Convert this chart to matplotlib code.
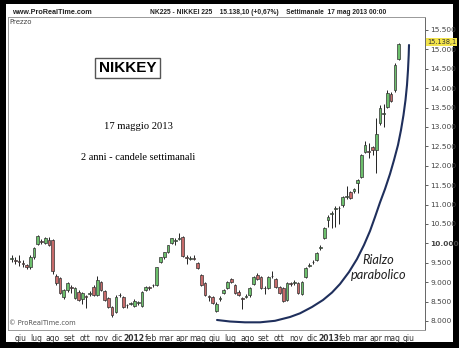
import matplotlib
matplotlib.use('Agg')
import matplotlib.pyplot as plt
import matplotlib.transforms as mtransforms
from matplotlib.patches import Rectangle
import pandas as pd

# weekly candles, first week starts Monday 16 May 2011
start = pd.Timestamp('2011-05-16')

opens = [9600, 9560, 9540, 9490, 9440, 9380, 9640, 9980, 10060, 10010,
         10090, 10080, 9170, 9110, 8620, 8800, 8870, 8590, 8750, 8570,
         8640, 8700, 8880, 8670, 9000, 8770, 8590, 8360, 8230, 8660,
         8620, 8400, 8450, 8390, 8470, 8390, 8800, 8860, 8920, 8930,
         9520, 9650, 9780, 10010, 10070, 10120, 10160, 9640, 9610, 9630,
         9490, 9190, 8980, 8630, 8620, 8260, 8570, 8720, 8850, 9080,
         8930, 8750, 8580, 8630, 8670, 8950, 9190, 9130, 8840, 8850,
         9150, 9080, 8880, 8850, 8540, 8960, 8990, 8980, 8700, 9130,
         9430, 9510, 9570, 9890, 10140, 10600, 10760, 10890, 10900, 10990,
         11190, 11320, 11360, 11560, 11710, 12360, 12380, 12480, 12410, 13100,
         13340, 13520, 13850, 13950, 14750]
highs = [9700, 9640, 9700, 9560, 9480, 9690, 9900, 10210, 10120, 10160,
         10160, 10110, 9220, 9130, 8820, 9000, 8920, 8880, 8790, 8760,
         8660, 8780, 8920, 9150, 9040, 8800, 8610, 8380, 8660, 8720,
         8650, 8440, 8490, 8560, 8520, 8780, 8900, 8890, 8960, 9400,
         9660, 9790, 9970, 10150, 10130, 10260, 10190, 9690, 9680, 9690,
         9520, 9210, 9000, 8680, 8650, 8480, 8640, 8830, 9020, 9100,
         8950, 8790, 8620, 8700, 8870, 9150, 9230, 9150, 8900, 9160,
         9300, 9110, 8900, 8870, 9000, 9000, 9060, 9000, 9030, 9390,
         9490, 9560, 9770, 9960, 10420, 10740, 10830, 10960, 10960, 11220,
         11480, 11360, 11420, 11650, 12300, 12650, 12600, 12520, 13230, 13560,
         13600, 13950, 13900, 14650, 15160]
lows = [9520, 9480, 9430, 9400, 9330, 9340, 9610, 9960, 9980, 9980,
        9940, 9200, 8940, 8700, 8560, 8760, 8720, 8560, 8520, 8450,
        8340, 8640, 8650, 8640, 8770, 8520, 8340, 8100, 8200, 8620,
        8340, 8340, 8400, 8360, 8420, 8370, 8780, 8800, 8870, 8910,
        9500, 9600, 9760, 9990, 9960, 10080, 9660, 9470, 9560, 9570,
        9340, 8900, 8640, 8520, 8430, 8240, 8520, 8690, 8830, 8980,
        8700, 8640, 8300, 8580, 8620, 8930, 9060, 8830, 8700, 8830,
        9100, 8860, 8700, 8490, 8520, 8900, 8940, 8700, 8660, 9110,
        9380, 9460, 9550, 9830, 10120, 10420, 10400, 10420, 10500, 10950,
        11150, 11150, 11300, 11300, 11690, 12330, 12200, 12280, 11810, 13050,
        13000, 13480, 13640, 13900, 14720]
closes = [9610, 9550, 9520, 9470, 9380, 9640, 9880, 10180, 10040, 10140,
          9960, 9290, 8980, 8720, 8800, 8980, 8840, 8850, 8540, 8720,
          8620, 8720, 8670, 9060, 8800, 8540, 8360, 8160, 8620, 8670,
          8360, 8410, 8460, 8520, 8490, 8750, 8880, 8850, 8930, 9390,
          9650, 9780, 9960, 10140, 10090, 10140, 9680, 9620, 9620, 9610,
          9370, 8930, 8670, 8620, 8460, 8440, 8590, 8800, 9000, 9000,
          8720, 8670, 8570, 8640, 8850, 9130, 9080, 8850, 8850, 9130,
          9160, 8880, 8720, 8510, 8980, 8950, 9000, 8720, 9000, 9370,
          9440, 9520, 9750, 9920, 10400, 10690, 10790, 10910, 10920, 11200,
          11210, 11170, 11390, 11630, 12280, 12540, 12350, 12400, 12820, 13490,
          13360, 13880, 13680, 14600, 15138.1]

# hand drawn "parabolic" curve (week index, price)
curve_weeks = [55.19, 58.68, 62.71, 66.75, 70.78, 74.81, 77.50, 80.72, 83.68, 86.10,
               88.25, 90.67, 92.82, 94.70, 96.32, 97.66, 99.00, 100.35, 101.69, 102.77,
               103.84, 104.65, 105.32, 105.86, 106.26, 106.53, 106.72, 106.80]
curve_values = [8026, 7987, 7966, 7966, 8005, 8103, 8198, 8361, 8541, 8734,
                8954, 9263, 9598, 9959, 10320, 10680, 11054, 11402, 11789, 12149,
                12536, 12923, 13309, 13696, 14082, 14469, 14856, 15113]

month_labels = ['giu', 'lug', 'ago', 'set', 'ott', 'nov', 'dic', '2012', 'feb', 'mar',
                'apr', 'mag', 'giu', 'lug', 'ago', 'set', 'ott', 'nov', 'dic', '2013',
                'feb', 'mar', 'apr', 'mag', 'giu']
month_starts = pd.date_range('2011-06-01', periods=len(month_labels), freq='MS')
price_ticks = list(range(8000, 16000, 500))

green = '#6cbf6c'
red = '#c66a6a'

fig = plt.figure(figsize=(4.6, 3.48), dpi=100, facecolor='black')
# white page inside the black frame
fig.patches.append(Rectangle((6/460, 6/348), 447/460, 338/348,
                             transform=fig.transFigure, facecolor='white',
                             edgecolor='none', zorder=-10))

ax = fig.add_axes([8/460, 18/348, 417/460, 313/348])
ax.set_zorder(1)
ax.set_facecolor('white')

x = list(range(len(closes)))
bottoms = [min(o, c) for o, c in zip(opens, closes)]
heights = [max(abs(c - o), 18) for o, c in zip(opens, closes)]
cols = [green if c >= o else red for o, c in zip(opens, closes)]

ax.vlines(x, lows, highs, color='#222222', linewidth=0.7, zorder=2)
ax.bar(x, heights, bottom=bottoms, width=0.72, color=cols,
       edgecolor='#333333', linewidth=0.5, zorder=3)

ax.plot(curve_weeks, curve_values, color='#1f2f5c', linewidth=1.5, zorder=4,
        solid_joinstyle='round', solid_capstyle='round')

ax.set_xlim(-1.0, 111.1)
ax.set_ylim(7768, 15835)

tick_pos = [(d - start).days / 7 for d in month_starts]
ax.set_xticks(tick_pos)
ax.set_xticklabels(month_labels)
for lbl in ax.get_xticklabels():
    if lbl.get_text().isdigit():
        lbl.set_fontweight('bold')
        lbl.set_fontsize(6.3)
ax.tick_params(axis='x', length=0, labelsize=5.5, colors='#333333', pad=3)

ax.yaxis.tick_right()
ax.set_yticks(price_ticks)
ax.set_yticklabels([f'{v:,}'.replace(',', '.') for v in price_ticks])
for lbl in ax.get_yticklabels():
    if lbl.get_text() == '10.000':
        lbl.set_fontweight('bold')
ax.tick_params(axis='y', length=2.5, width=0.6, labelsize=5.3, colors='#444444', pad=1.5)

for s in ax.spines.values():
    s.set_color('#999999')
    s.set_linewidth(0.7)
ax.spines['right'].set_color('#666666')

# last price marker on the scale
last = closes[-1]
trans = mtransforms.blended_transform_factory(ax.transAxes, ax.transData)
ax.text(1.005, last + 60, f'{last:,.1f}'.replace(',', 'X').replace('.', ',').replace('X', '.'),
        transform=trans, fontsize=4.8, color='#333333', va='center', ha='left',
        bbox=dict(boxstyle='square,pad=0.12', facecolor='#f2e34a', edgecolor='none'),
        zorder=6, clip_on=False)

# header
fig.text(12/460, 336/348, 'www.ProRealTime.com', fontsize=5.2, fontweight='bold',
         family='Liberation Sans', color='#222222', va='center')
fig.text(150/460, 336/348,
         'NK225 - NIKKEI 225    15.138,10 (+0,67%)    Settimanale  17 mag 2013 00:00',
         fontsize=4.75, fontweight='bold', family='Liberation Sans', color='#222222',
         va='center')

ax.text(0.004, 0.993, 'Prezzo', transform=ax.transAxes, fontsize=5,
        color='#444444', va='top', ha='left')
ax.text(0.003, 0.012, '© ProRealTime.com', transform=ax.transAxes, fontsize=4.8,
        color='#555555', va='bottom', ha='left')

ax.text(0.2866, 0.837, 'NIKKEY', transform=ax.transAxes, fontsize=11,
        fontweight='bold', family='Liberation Sans', ha='center', va='center',
        bbox=dict(boxstyle='square,pad=0.22', facecolor='white', edgecolor='#555555',
                  linewidth=1.0))
ax.text(0.312, 0.6486, '17 maggio 2013', transform=ax.transAxes, fontsize=7.6,
        family='Liberation Serif', ha='center', va='center')
ax.text(0.312, 0.5527, '2 anni - candele settimanali', transform=ax.transAxes,
        fontsize=7.5, family='Liberation Serif', ha='center', va='center')
ax.text(0.888, 0.201, 'Rialzo\nparabolico', transform=ax.transAxes, fontsize=9.2,
        family='Lato', style='italic', color='#222222', ha='center', va='center',
        linespacing=1.3)

fig.savefig('out.png', dpi=100, facecolor=fig.get_facecolor())
